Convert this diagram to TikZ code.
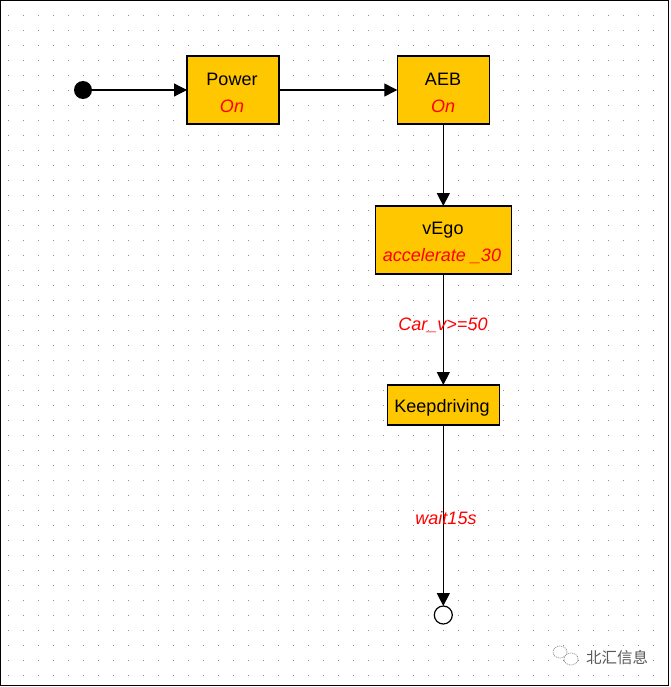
\documentclass[tikz,border=0pt]{standalone}
\usepackage{fontspec}
\setmainfont{Liberation Sans}
\newfontfamily\cjkface{Noto Sans CJK SC}
\usetikzlibrary{arrows.meta}
\tikzset{
  state/.style={draw=black,fill=stateyellow,line width=1.4pt,inner sep=0pt,outer sep=0pt},
  title/.style={font=\fontsize{18}{20}\selectfont,text=black,inner sep=0pt},
  action/.style={font=\fontsize{18}{20}\selectfont\itshape,text=red,inner sep=0pt},
  flow/.style={line width=1.2pt,-{Triangle[length=13pt,width=13pt]}},
  pseudo/.style={circle,inner sep=0pt,outer sep=0pt,minimum size=18pt}
}
\definecolor{stateyellow}{RGB}{255,199,0}
\begin{document}
\begin{tikzpicture}[x=1pt,y=-1pt]
\useasboundingbox (0,0) rectangle (670,687);
\fill[white] (0,0) rectangle (670,687);

% background dot grid
\foreach \gx in {8,23,...,660}
  \foreach \gy in {15,30,...,680}
    \fill[black!45] (\gx-0.45,\gy-0.45) rectangle (\gx+0.45,\gy+0.45);

% frame
\draw[black,line width=1.2pt] (0.6,0.6) rectangle (668.4,685.4);

% states
\node[state,minimum width=92pt,minimum height=68pt] (power) at (233,90) {};
\node[state,minimum width=92pt,minimum height=68pt] (aeb) at (443.3,90) {};
\node[state,minimum width=136pt,minimum height=68pt] (vego) at (443.3,240) {};
\node[state,minimum width=112pt,minimum height=40pt] (keep) at (443.3,405) {};

% pseudo states
\node[pseudo,fill=black] (start) at (83,90) {};
\node[pseudo,draw=black,fill=white,line width=1.2pt] (stop) at (443.3,615) {};

% state texts
\node[title] at (232,79.5) {Power};
\node[action] at (232,106.5) {On};
\node[title] at (443,79.5) {AEB};
\node[action] at (443,106.5) {On};
\node[title] at (443,230) {vEgo};
\node[action] at (442,256.5) {accelerate \_30};
\node[title] at (442,407.5) {Keepdriving};

% transitions
\draw[flow] (start) -- (power);
\draw[flow] (power) -- (aeb);
\draw[flow] (aeb) -- (vego);
\draw[flow] (vego) -- (keep);
\draw[flow] (keep) -- (stop);

% transition labels
\node[action] at (443,325.5) {Car\_v>=50};
\node[action] at (446,518.5) {wait15s};

% logo mark and caption, bottom right
\begin{scope}[draw=black!45,line width=0.6pt,dash pattern=on 1.2pt off 0.8pt]
  \draw[fill=white] (560,652) ellipse (7pt and 6pt);
  \draw[fill=white] (571,659) ellipse (7pt and 6pt);
\end{scope}
\node[font=\cjkface\fontsize{15.5}{18}\selectfont,text=black!65,inner sep=0pt] at (617,658) {北汇信息};
\end{tikzpicture}
\end{document}
